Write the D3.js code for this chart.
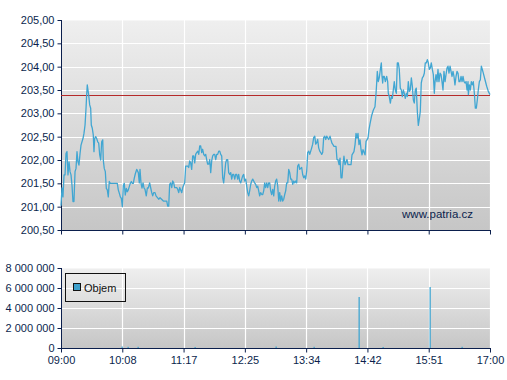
<!DOCTYPE html>
<html><head><meta charset="utf-8">
<script src="https://cdn.jsdelivr.net/npm/d3@7/dist/d3.min.js"></script>
<style>
html,body{margin:0;padding:0;background:#fff;}
svg{display:block;font-family:"Liberation Sans",Arial,sans-serif;}
</style></head>
<body>
<svg id="chart" width="507" height="380"></svg>
<script>
// ---- data (minutes from 09:00 open, price in CZK) ----
const priceMinutes = [0,1.1,2.2,3.4,4.5,5.6,6.7,7.8,9.0,10.1,11.2,12.3,13.4,14.5,15.7,16.8,17.9,19.0,20.1,21.3,22.4,23.5,24.6,25.7,26.9,28.0,28.7,29.4,30.2,31.0,32.1,33.2,33.9,35.0,36.1,36.9,37.7,38.8,39.9,41.1,42.2,43.3,44.4,45.5,46.7,47.3,48.4,49.6,50.7,51.8,52.9,54.0,55.2,56.3,60.1,63.0,64.1,65.2,66.4,67.5,68.6,69.7,70.8,71.9,73.1,74.2,75.3,76.4,77.5,78.7,79.8,80.9,82.0,83.1,84.7,86.5,87.6,88.4,89.5,90.6,91.8,92.9,94.0,95.4,96.6,97.7,99.2,100.4,101.5,102.6,103.7,105.2,106.3,109.3,110.8,
114.5,118.3,119.4,120.5,121.6,122.7,123.9,125.0,126.1,127.2,129.5,130.6,131.7,132.8,135.1,136.2,138.4,139.5,141.8,142.9,144.0,145.1,146.2,147.4,148.5,149.6,150.7,151.8,153.0,154.1,155.2,156.3,157.4,158.5,159.7,160.8,161.9,163.0,164.1,165.3,166.4,167.5,168.6,169.7,170.9,172.0,173.1,174.2,175.3,176.5,177.6,178.7,179.8,180.9,182.0,183.2,184.3,185.4,186.5,187.6,188.8,189.9,191.0,192.1,193.2,194.4,195.5,196.6,197.7,198.8,199.9,201.1,202.2,203.3,204.4,205.5,206.7,207.8,208.9,210.0,211.1,212.3,213.4,214.5,215.6,216.7,217.8,219.0,220.1,221.2,222.3,223.4,224.6,225.7,226.8,227.9,229.0,230.2,231.3,232.4,233.5,234.6,235.7,236.9,238.0,239.1,240.2,241.3,242.5,243.6,244.7,245.8,246.9,248.1,249.2,250.3,251.4,252.5,253.7,254.8,255.9,257.0,258.1,259.3,260.4,261.5,262.6,263.7,264.8,266.0,267.1,269.3,270.4,271.6,272.7,273.8,274.9,276.0,277.2,278.3,279.4,280.5,281.6,282.7,283.9,285.0,286.1,287.2,288.3,289.5,290.6,291.7,292.8,293.9,295.1,296.2,297.3,299.5,301.0,
302.1,303.2,304.3,305.5,307.7,308.8,309.9,311.1,312.2,313.3,314.4,315.5,316.6,317.8,320.0,321.1,324.5,325.6,327.8,329.0,330.1,331.2,332.3,333.4,334.6,335.7,336.8,337.9,340.2,341.3,343.5,344.6,345.8,347.7,349.5,351.3,352.5,353.2,353.9,355.0,356.1,357.3,358.4,359.2,359.9,360.6,361.7,362.9,364.4,365.5,366.2,367.3,368.5,369.6,370.7,371.8,372.9,374.0,375.2,376.3,377.4,378.5,379.6,380.8,381.9,383.0,384.1,385.2,386.4,387.5,388.6,389.7,390.8,392.0,393.1,394.2,395.3,396.4,397.5,398.7,399.8,400.9,402.0,403.1,404.3,405.4,406.5,407.6,408.7,409.9,411.0,412.1,413.2,414.3,415.5,416.6,417.7,
418.5,419.6,420.7,421.8,422.9,424.1,425.2,426.3,427.4,428.5,429.7,430.8,431.9,433.0,434.1,435.3,436.4,437.5,438.6,439.7,440.8,442.0,443.1,444.2,445.3,446.4,447.6,448.7,449.8,450.9,452.0,453.2,454.3,455.4,455.8,456.9,458.0,459.1,460.2,461.3,462.5,463.6,464.7,465.8,466.9,468.1,469.2,470.3,471.4,472.5,474.4,476.3,478.1,480.0];
const priceValues = [201.02,201.40,201.21,201.68,201.68,202.14,202.18,201.68,201.96,201.75,201.68,201.46,201.11,201.11,201.75,201.82,202.18,201.96,201.89,202.14,202.32,202.39,202.46,202.57,202.75,203.11,203.39,203.61,203.50,203.39,203.18,203.11,202.75,202.68,202.54,202.18,202.46,202.50,202.46,202.39,202.36,202.11,202.00,202.39,202.43,202.00,201.82,201.75,201.39,201.36,201.21,201.54,201.50,201.50,201.50,201.50,201.36,201.29,201.21,201.18,201.00,201.46,201.50,201.25,201.39,201.32,201.36,201.43,201.50,201.54,201.50,201.50,201.61,201.70,201.80,201.73,201.51,201.80,201.51,201.40,201.51,201.40,201.37,201.23,201.40,201.40,201.51,201.40,201.30,201.23,201.30,201.30,201.23,201.16,201.19,
201.12,201.12,201.01,201.01,201.48,201.51,201.41,201.55,201.51,201.41,201.41,201.37,201.30,201.41,201.30,201.41,201.51,201.87,201.87,201.84,201.98,201.94,201.80,202.09,202.09,201.94,202.12,202.16,202.19,202.12,202.30,202.30,202.16,202.23,202.12,202.09,202.12,202.01,201.91,201.91,202.01,201.73,201.98,202.09,202.12,202.12,202.01,202.12,202.12,202.19,202.19,202.12,202.09,201.62,201.51,201.73,201.94,202.01,202.01,201.73,201.69,201.73,201.59,201.69,201.69,201.59,201.69,201.69,201.59,201.69,201.55,201.51,201.59,201.66,201.69,201.55,201.59,201.44,201.30,201.23,201.34,201.48,201.55,201.59,201.55,201.51,201.48,201.41,201.44,201.34,201.23,201.30,201.26,201.26,201.34,201.51,201.41,201.51,201.41,201.51,201.51,201.34,201.26,201.37,201.23,201.44,201.55,201.59,201.44,201.12,201.30,201.12,201.23,201.12,201.16,201.26,201.34,201.51,201.51,201.80,201.73,201.59,201.59,201.48,201.55,201.51,201.55,201.51,201.87,201.91,201.80,201.84,201.69,201.62,201.66,201.59,201.76,202.16,202.19,202.12,202.19,202.26,202.34,202.48,202.51,202.34,202.37,202.44,202.26,202.19,202.16,202.12,202.16,202.48,202.51,202.44,202.51,202.44,202.51,
202.43,202.36,202.33,202.29,202.29,202.01,202.01,201.90,202.04,201.62,201.62,201.90,202.08,201.90,202.01,201.90,201.90,202.11,202.18,202.33,202.57,202.47,202.57,202.33,202.43,202.22,202.11,202.22,202.11,202.40,202.47,202.65,202.78,202.96,203.07,203.14,203.43,203.65,203.90,203.68,203.76,203.94,204.08,203.79,203.65,203.79,203.79,203.68,203.79,203.68,203.43,203.36,203.22,203.36,203.32,203.50,203.68,203.50,203.43,204.08,204.08,203.94,203.54,203.50,203.36,203.50,203.43,203.32,203.43,203.36,203.68,203.47,203.50,203.76,203.58,203.29,203.22,203.50,203.54,203.04,202.74,202.88,203.04,203.65,203.76,203.79,203.86,204.08,204.08,204.15,204.08,203.94,203.97,204.08,203.94,203.83,203.43,
203.68,203.83,203.68,203.94,203.68,203.86,203.83,203.68,203.50,203.90,203.68,203.83,203.97,204.01,203.86,204.01,203.90,203.79,203.90,203.79,203.61,203.79,203.90,203.86,203.68,203.68,203.79,203.68,203.79,203.68,203.65,203.68,203.50,203.68,203.40,203.61,203.50,203.68,203.61,203.68,203.43,203.11,203.11,203.29,203.50,203.68,203.72,204.01,203.94,203.86,203.72,203.58,203.47,203.40];
const referencePrice = 203.40;
const volumeMinutes = [68.6,75.3,86.5,149.9,240.6,283.4,333.8,360.6,413.2,449.0];
const volumeValues = [150000,120000,120000,100000,150000,120000,5100000,100000,6100000,120000];
const priceTicks = [200.5,201,201.5,202,202.5,203,203.5,204,204.5,205];
const volumeTicks = [0,2000000,4000000,6000000,8000000];
const timeTickLabels = ["09:00","10:08","11:17","12:25","13:34","14:42","15:51","17:00"];
const legendLabel = "Objem";
const watermark = "www.patria.cz";

// ---- layout ----
const svg = d3.select("#chart");
const L = 61, R = 490;
const pTop = 20, pBot = 230;
const vTop = 268, vBot = 348;
const navy = "#0b1f4d";
const lineColor = "#41a6d2";

const x = d3.scaleLinear().domain([0, 480]).range([L, R]);
const yP = d3.scaleLinear().domain([200.5, 205]).range([pBot, pTop]);
const yV = d3.scaleLinear().domain([0, 8000000]).range([vBot, vTop]);
const tickMinutes = timeTickLabels.map((_, i) => i * 480 / 7);

const defs = svg.append("defs");
const grad = defs.append("linearGradient").attr("id","bg").attr("x1",0).attr("y1",0).attr("x2",0).attr("y2",1);
grad.append("stop").attr("offset","0%").attr("stop-color","#efefef");
grad.append("stop").attr("offset","100%").attr("stop-color","#c6c6c6");

function panel(top, bot, yScale, ticks, fmt, showXLabels) {
  const g = svg.append("g");
  g.append("rect").attr("x", L).attr("y", top).attr("width", R - L).attr("height", bot - top)
    .attr("fill", "url(#bg)");
  g.append("line").attr("x1", L).attr("x2", R).attr("y1", top + 0.5).attr("y2", top + 0.5)
    .attr("stroke", "#f6f6f6");
  // grid
  g.selectAll(".hg").data(ticks.filter(t => yScale(t) > top + 1 && yScale(t) < bot - 1)).join("line")
    .attr("x1", L).attr("x2", R)
    .attr("y1", d => Math.round(yScale(d)) + 0.5).attr("y2", d => Math.round(yScale(d)) + 0.5)
    .attr("stroke", "#ffffff").attr("stroke-width", 1.2);
  g.selectAll(".vg").data(tickMinutes.slice(1)).join("line")
    .attr("x1", d => Math.round(x(d)) + 0.5).attr("x2", d => Math.round(x(d)) + 0.5)
    .attr("y1", top).attr("y2", bot)
    .attr("stroke", "#ffffff").attr("stroke-width", 1.2);
  // y axis
  const ya = d3.axisLeft(yScale).tickValues(ticks).tickFormat(fmt).tickSize(4).tickPadding(3);
  const yg = svg.append("g").attr("transform", `translate(${L + 0.5},0)`).call(ya);
  yg.select(".domain").attr("stroke", navy).attr("d", `M0,${top}V${bot}`);
  yg.selectAll(".tick line").attr("stroke", navy);
  yg.selectAll(".tick text").attr("fill", navy).style("font-size", "11px")
    .style("font-family", '"Liberation Sans", Arial, sans-serif');
  // x axis
  const xa = d3.axisBottom(x).tickValues(tickMinutes).tickSize(4).tickPadding(4)
    .tickFormat((d, i) => showXLabels ? timeTickLabels[i] : "");
  const xg = svg.append("g").attr("transform", `translate(0,${bot + 0.5})`).call(xa);
  xg.select(".domain").attr("stroke", navy).attr("d", `M${L},0H${R + 1}`);
  xg.selectAll(".tick line").attr("stroke", navy);
  xg.selectAll(".tick text").attr("fill", navy).style("font-size", "11px")
    .style("font-family", '"Liberation Sans", Arial, sans-serif');
  return g;
}

panel(pTop, pBot, yP, priceTicks, d => d3.format(".2f")(d).replace(".", ","), false);
panel(vTop, vBot, yV, volumeTicks, d => d3.format(",")(d).replace(/,/g, " "), true);

// watermark
svg.append("text").attr("x", 473).attr("y", 218).attr("text-anchor", "end")
  .attr("fill", navy).style("font-size", "11.5px").text(watermark);

// reference line
svg.append("line").attr("x1", L).attr("x2", R)
  .attr("y1", Math.round(yP(referencePrice)) + 0.5).attr("y2", Math.round(yP(referencePrice)) + 0.5)
  .attr("stroke", "#b52a2a").attr("stroke-width", 1);

// price line
const pts = priceMinutes.map((m, i) => [m, priceValues[i]]);
svg.append("path").datum(pts)
  .attr("d", d3.line().x(d => x(d[0])).y(d => yP(d[1])))
  .attr("fill", "none").attr("stroke", lineColor).attr("stroke-width", 1.3)
  .attr("stroke-linejoin", "round");

// volume bars
svg.selectAll(".vb").data(volumeMinutes.map((m, i) => [m, volumeValues[i]])).join("rect")
  .attr("x", d => Math.round(x(d[0])) - 0.5).attr("width", 1.3)
  .attr("y", d => yV(d[1])).attr("height", d => vBot - yV(d[1]))
  .attr("fill", lineColor);

// legend
const lg = svg.append("g");
lg.append("rect").attr("x", 65.5).attr("y", 273.5).attr("width", 60).attr("height", 28)
  .attr("fill", "none").attr("stroke", "#111").attr("stroke-width", 1);
lg.append("rect").attr("x", 73.5).attr("y", 283.5).attr("width", 7).attr("height", 7)
  .attr("fill", "#3ea0cc").attr("stroke", "#111").attr("stroke-width", 1);
lg.append("text").attr("x", 84).attr("y", 292).attr("fill", "#111").style("font-size", "11px").text(legendLabel);
</script>
</body></html>
